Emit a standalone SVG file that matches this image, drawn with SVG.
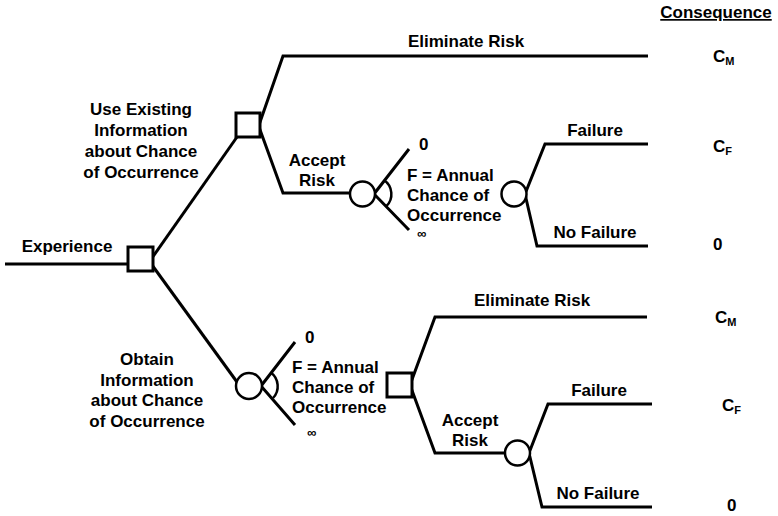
<svg xmlns="http://www.w3.org/2000/svg" width="778" height="516" viewBox="0 0 778 516">
<style>
.e{fill:none;stroke:#000;stroke-width:3;stroke-linejoin:miter}
.a{fill:none;stroke:#000;stroke-width:2.5}
.n{fill:#fff;stroke:#000;stroke-width:3}
.c{fill:#fff;stroke:#000;stroke-width:2.5}
text{font-family:"Liberation Sans",Arial,sans-serif;font-weight:bold;font-size:17px;fill:#000}
.m{text-anchor:middle}
.s{font-size:11px}
.inf{font-size:13px}
</style>
<rect width="778" height="516" fill="#fff"/>
<g id="connectors">
<polyline class="e" points="5,264 130,264"/>
<polyline class="e" points="152,258 237,137"/>
<polyline class="e" points="152,265 237,382"/>
<polyline class="e" points="259,125 283,56 648,56"/>
<polyline class="e" points="259,127 283,193 352,193"/>
<polyline class="e" points="409,149 374,194 409,230"/>
<path class="a" d="M383.9,180 A17,17 0 0 1 386.3,206.2"/>
<polyline class="e" points="525,194 545,144 648,144"/>
<polyline class="e" points="525,194 537,246 648,246"/>
<polyline class="e" points="295,342 261,386 295,425"/>
<path class="a" d="M270.8,372.6 A17,17 0 0 1 273,398"/>
<polyline class="e" points="410,385 435,317 647,317"/>
<polyline class="e" points="410,385 435,453 507,453"/>
<polyline class="e" points="529,453 548,404 652,404"/>
<polyline class="e" points="529,453 542,507 652,507"/>
</g>
<g id="n-experience"><rect class="n" x="128" y="247" width="25" height="24"/></g>
<g id="n-use-existing"><rect class="n" x="236" y="113" width="24" height="24"/></g>
<g id="n-accept-chance"><circle class="c" cx="362.5" cy="194" r="12.5"/></g>
<g id="n-failure-top"><circle class="c" cx="514" cy="194" r="12.5"/></g>
<g id="n-obtain-chance"><circle class="c" cx="249" cy="386" r="13"/></g>
<g id="n-decision-bottom"><rect class="n" x="387" y="373" width="25" height="24"/></g>
<g id="n-failure-bottom"><circle class="c" cx="517.5" cy="453" r="12.5"/></g>
<g id="labels">
<text class="m" x="716" y="18" text-decoration="underline">Consequence</text>
<text class="m" x="67" y="252">Experience</text>
<text class="m" x="141" y="115">Use Existing</text>
<text class="m" x="141" y="136">Information</text>
<text class="m" x="141" y="157">about Chance</text>
<text class="m" x="141" y="178">of Occurrence</text>
<text class="m" x="147" y="365">Obtain</text>
<text class="m" x="147" y="386">Information</text>
<text class="m" x="147" y="406">about Chance</text>
<text class="m" x="147" y="427">of Occurrence</text>
<text class="m" x="466" y="47">Eliminate Risk</text>
<text class="m" x="317" y="166">Accept</text>
<text class="m" x="317" y="186">Risk</text>
<text x="419" y="150">0</text>
<text x="407" y="181">F = Annual</text>
<text x="407" y="201">Chance of</text>
<text x="407" y="221">Occurrence</text>
<text class="inf" x="417" y="238">∞</text>
<text class="m" x="595" y="136">Failure</text>
<text class="m" x="595" y="238">No Failure</text>
<text x="713" y="62">C<tspan class="s" dy="3">M</tspan></text>
<text x="713" y="152">C<tspan class="s" dy="3">F</tspan></text>
<text x="713" y="250">0</text>
<text x="305" y="343">0</text>
<text x="292" y="373">F = Annual</text>
<text x="292" y="393">Chance of</text>
<text x="292" y="413">Occurrence</text>
<text class="inf" x="307" y="437">∞</text>
<text class="m" x="532" y="306">Eliminate Risk</text>
<text class="m" x="470" y="426">Accept</text>
<text class="m" x="470" y="446">Risk</text>
<text class="m" x="599" y="396">Failure</text>
<text class="m" x="598" y="499">No Failure</text>
<text x="715" y="323">C<tspan class="s" dy="3">M</tspan></text>
<text x="722" y="411">C<tspan class="s" dy="3">F</tspan></text>
<text x="727" y="511">0</text>
</g>
</svg>
